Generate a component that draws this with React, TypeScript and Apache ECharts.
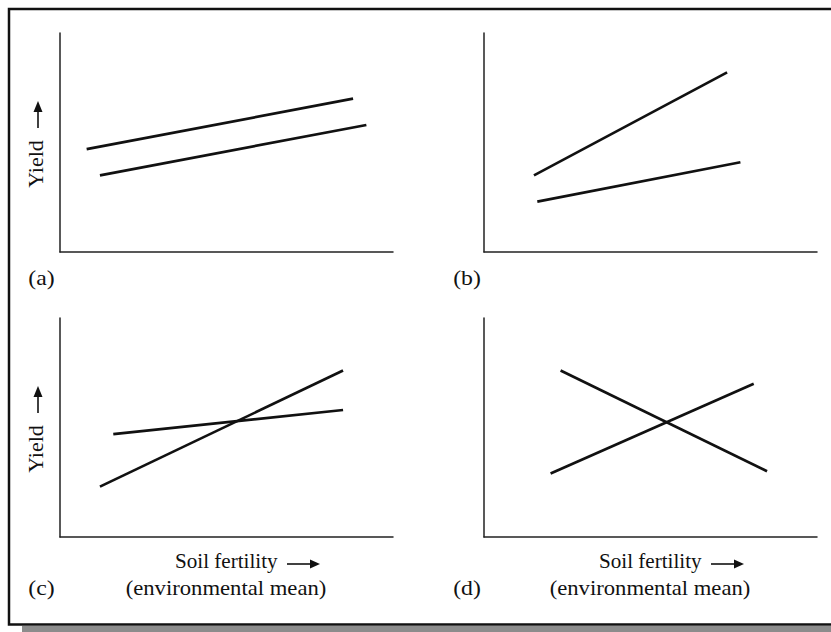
import React, { useEffect, useRef } from "react";
import * as echarts from "echarts";

// Data (x: soil fertility 0-100, y: yield 0-100)
const panelA_line1 = [[8, 47], [88, 70]];
const panelA_line2 = [[12, 35], [92, 58]];
const panelB_line1 = [[15, 35], [73, 82]];
const panelB_line2 = [[16, 23], [77, 41]];
const panelC_line1 = [[12, 23], [85, 76]];
const panelC_line2 = [[16, 47], [85, 58]];
const panelD_line1 = [[23, 76], [85, 30]];
const panelD_line2 = [[20, 29], [81, 70]];

const panelLabels = ["(a)", "(b)", "(c)", "(d)"];
const yAxisTitle = "Yield";
const xAxisTitle = "Soil fertility";
const xAxisSubtitle = "(environmental mean)";

const FONT = "Liberation Serif";
const FS = 22;
const INK = "#111";

export default function App() {
  const ref = useRef<HTMLDivElement>(null);

  useEffect(() => {
    if (!ref.current) return;
    const chart = echarts.init(ref.current, undefined, { renderer: "svg" });

    const grids = [
      { left: 60, top: 33, width: 333, height: 219 },
      { left: 484, top: 33, width: 333, height: 219 },
      { left: 60, top: 318, width: 333, height: 219 },
      { left: 484, top: 318, width: 333, height: 219 },
    ];
    const axisCommon = {
      type: "value",
      min: 0,
      max: 100,
      axisLine: { show: true, lineStyle: { color: "#222", width: 1.5 } },
      axisTick: { show: false },
      axisLabel: { show: false },
      splitLine: { show: false },
    };
    const panels = [
      [panelA_line1, panelA_line2],
      [panelB_line1, panelB_line2],
      [panelC_line1, panelC_line2],
      [panelD_line1, panelD_line2],
    ];
    const series: any[] = [];
    panels.forEach((lines, i) => {
      lines.forEach((d) => {
        series.push({
          type: "line",
          xAxisIndex: i,
          yAxisIndex: i,
          data: d,
          symbol: "none",
          silent: true,
          lineStyle: { color: INK, width: 2.7 },
        });
      });
    });

    const txt = (text: string, x: number, y: number, align: string, sx: number, extra: any = {}) => ({
      type: "text",
      x,
      y,
      scaleX: sx,
      silent: true,
      ...extra,
      style: {
        text,
        x: 0,
        y: 0,
        align,
        verticalAlign: "middle",
        fill: INK,
        fontSize: FS,
        fontFamily: FONT,
      },
    });

    const arrowRight = (x0: number, x1: number, y: number) => [
      { type: "line", silent: true, shape: { x1: x0, y1: y, x2: x1 - 6, y2: y }, style: { stroke: INK, lineWidth: 1.6 } },
      { type: "polygon", silent: true, shape: { points: [[x1, y], [x1 - 10, y - 4.5], [x1 - 10, y + 4.5]] }, style: { fill: INK } },
    ];
    const arrowUp = (x: number, y0: number, y1: number) => [
      { type: "line", silent: true, shape: { x1: x, y1: y0, x2: x, y2: y1 + 6 }, style: { stroke: INK, lineWidth: 1.6 } },
      { type: "polygon", silent: true, shape: { points: [[x, y1], [x - 4.5, y1 + 11], [x + 4.5, y1 + 11]] }, style: { fill: INK } },
    ];

    const graphics: any[] = [
      // frame shadow
      { type: "rect", silent: true, shape: { x: 22, y: 626, width: 830, height: 10 }, style: { fill: "#8c8c8c" } },
      // frame
      { type: "rect", silent: true, shape: { x: 9, y: 9, width: 840, height: 615.5 }, style: { fill: "none", stroke: "#111", lineWidth: 2.5 } },
      // panel labels
      txt(panelLabels[0], 41.5, 278, "center", 1.08),
      txt(panelLabels[1], 467, 278, "center", 1.08),
      txt(panelLabels[2], 41.5, 588, "center", 1.08),
      txt(panelLabels[3], 467, 588, "center", 1.08),
      // y titles
      txt(yAxisTitle, 35, 164, "center", 1.0, { rotation: Math.PI / 2 }),
      ...arrowUp(38, 128, 101),
      txt(yAxisTitle, 35, 449, "center", 1.0, { rotation: Math.PI / 2 }),
      ...arrowUp(38, 413, 386),
      // x titles
      txt(xAxisTitle, 175, 561, "left", 0.96),
      ...arrowRight(287, 320, 564),
      txt(xAxisSubtitle, 226, 588, "center", 1.03),
      txt(xAxisTitle, 599, 561, "left", 0.96),
      ...arrowRight(711, 744, 564),
      txt(xAxisSubtitle, 650, 588, "center", 1.03),
    ];

    chart.setOption({
      animation: false,
      backgroundColor: "#fff",
      grid: grids,
      xAxis: grids.map((_, i) => ({ ...axisCommon, gridIndex: i })),
      yAxis: grids.map((_, i) => ({ ...axisCommon, gridIndex: i })),
      series,
      graphic: graphics,
    });

    return () => chart.dispose();
  }, []);

  return (
    <div
      ref={ref}
      style={{ position: "absolute", left: 0, top: 0, width: 831, height: 632, background: "#fff" }}
    />
  );
}
